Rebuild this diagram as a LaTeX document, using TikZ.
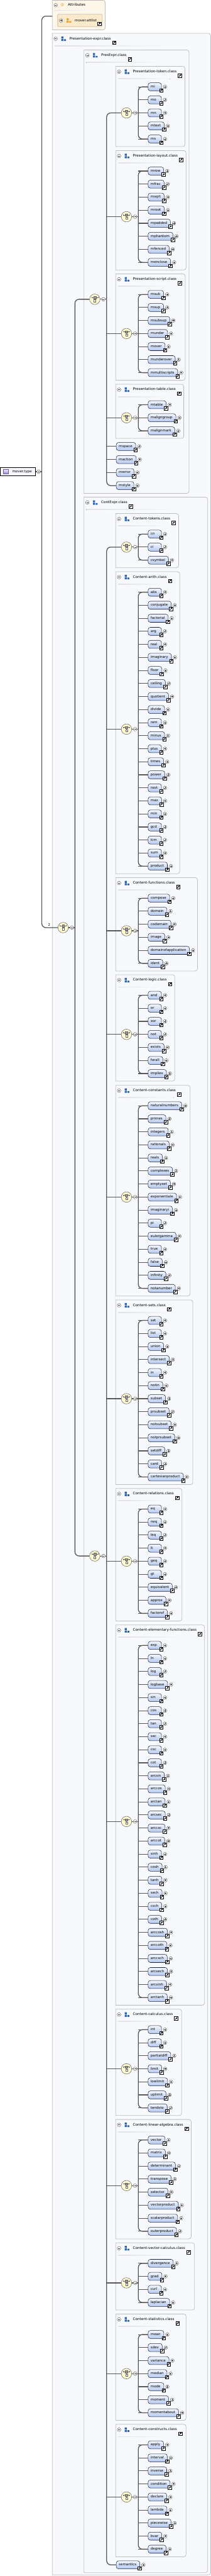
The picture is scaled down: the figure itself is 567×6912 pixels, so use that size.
\documentclass[tikz,border=0pt]{standalone}
\usepackage{fontspec}
\setmainfont{DejaVu Sans}
\usetikzlibrary{calc,arrows.meta,backgrounds}

\definecolor{boxline}{HTML}{BEBEBE}
\definecolor{boxfill}{HTML}{F7F9FD}
\definecolor{attrfill}{HTML}{FDF6E9}
\definecolor{attlistfill}{HTML}{FBEACB}
\definecolor{attlistline}{HTML}{CDBFA8}
\definecolor{elemtop}{HTML}{F3F7FE}
\definecolor{elembot}{HTML}{B3C7EE}
\definecolor{elemline}{HTML}{1C2238}
\definecolor{choicefill}{HTML}{FFFAD2}
\definecolor{connline}{HTML}{575757}
\definecolor{grpblue}{HTML}{2B63AF}
\definecolor{attrorange}{HTML}{EFA12E}
\definecolor{typefill}{HTML}{F8F6FC}
\definecolor{typetop}{HTML}{F1EDFB}
\definecolor{typebot}{HTML}{9986D2}
\definecolor{typeline}{HTML}{6B5AA6}

\tikzset{
  elem/.style={anchor=west, draw=elemline, line width=0.9pt, rounded corners=6pt,
    top color=elemtop, bottom color=elembot, minimum height=21.5pt, inner sep=0pt,
    text height=7pt, text depth=2pt, font=\fontsize{9.3pt}{11pt}\selectfont},
  pluscirc/.style={circle, draw=black!75, fill=white, line width=0.6pt, minimum size=9.6pt, inner sep=0pt,
    path picture={\draw[line width=0.7pt]
      ([xshift=-2.6pt]path picture bounding box.center) -- ([xshift=2.6pt]path picture bounding box.center)
      ([yshift=-2.6pt]path picture bounding box.center) -- ([yshift=2.6pt]path picture bounding box.center);}},
  minuscirc/.style={circle, draw=black!75, fill=white, line width=0.6pt, minimum size=9.6pt, inner sep=0pt,
    path picture={\draw[line width=0.7pt]
      ([xshift=-2.6pt]path picture bounding box.center) -- ([xshift=2.6pt]path picture bounding box.center);}},
  linkbox/.style={draw=black, fill=white, line width=0.8pt, minimum size=9.6pt, inner sep=0pt,
    path picture={\draw[line width=1.4pt, -{Triangle[length=3.4pt,width=4.2pt]}]
      ([shift={(2.2pt,2.2pt)}]path picture bounding box.south west) --
      ([shift={(-1.7pt,-1.7pt)}]path picture bounding box.north east);}},
  choicenode/.style={circle, draw=black!60, fill=choicefill, line width=0.9pt, minimum size=28pt, inner sep=0pt,
    path picture={\coordinate (pc) at (path picture bounding box.center);
      \draw[line width=0.7pt] ([shift={(-8.3pt,4.8pt)}]pc) -- ([shift={(8.3pt,4.8pt)}]pc)
        ([shift={(-8.3pt,3.2pt)}]pc) -- ([shift={(-8.3pt,6.4pt)}]pc)
        ([shift={(8.3pt,3.2pt)}]pc) -- ([shift={(8.3pt,6.4pt)}]pc)
        ([shift={(0pt,1.8pt)}]pc) -- ([shift={(0pt,-1.1pt)}]pc);
      \draw[line width=0.6pt, fill=black!40] ([shift={(-3pt,1.8pt)}]pc) rectangle ([shift={(3pt,7.8pt)}]pc);
      \draw[line width=0.6pt, fill=white] ([shift={(-2.8pt,-1.1pt)}]pc) rectangle ([shift={(2.8pt,-6.8pt)}]pc);}},
  conn/.style={draw=connline, line width=1.8pt},
  vbar/.style={draw=connline, line width=2.2pt},
  hdr/.style={anchor=west, inner sep=0pt, text height=7pt, text depth=2pt, font=\fontsize{9.6pt}{11pt}\selectfont},
  gbox/.style={draw=boxline, fill=boxfill, line width=1.3pt},
  attrbox/.style={draw=boxline, fill=attrfill, line width=1.3pt},
  attlistbox/.style={draw=attlistline, fill=attlistfill, line width=1.4pt, rounded corners=2pt},
  sepline/.style={left color=black!12, middle color=black!20, right color=boxfill},
  typebox/.style={anchor=west, draw=black, line width=1pt, fill=typefill, minimum height=22pt,
    minimum width=94.4pt, inner sep=0pt, text height=7pt, text depth=2pt, font=\fontsize{9.3pt}{11pt}\selectfont}
}

% label of an element box: left aligned, at least 20pt of text room
\newlength\elw
\newcommand\elabel[1]{\settowidth\elw{#1}\ifdim\elw<20pt\elw=20pt\fi\hspace*{6.9pt}\makebox[\elw][l]{#1}\hspace*{9.1pt}}

% the three squares of a group icon
\newcommand\gicon[3]{\fill[#3] ({#1},{#2-6}) rectangle ({#1+5.4},{#2-0.6})
  ({#1},{#2+0.6}) rectangle ({#1+5.4},{#2+6}) ({#1+7.2},{#2+1.4}) rectangle ({#1+12.2},{#2+6});}

% group box, rounded on the right side
\newcommand\gbox[5][gbox]{\path[#1] ({#2},{#3}) -- ({#4-6},{#3}) arc[start angle=90,end angle=0,radius=6pt]
  -- ({#4},{#5-6}) arc[start angle=0,end angle=-90,radius=6pt] -- ({#2},{#5}) -- cycle;}

% element with its plus sign and link icon
\newcommand\elemnode[3]{\node[elem] (e-#1) at ({#2},{#3}) {\elabel{#1}};
  \node[pluscirc] at ([xshift=9pt]e-#1.east) {};
  \node[linkbox] at ([shift={(-1pt,-9.4pt)}]e-#1.east) {};}

% header of a group box
\newcommand\ghead[5]{\node[minuscirc] at ({#2+9},{#3+14.4}) {};
  \gicon{#2+24.3}{#3+14.4}{grpblue}
  \node[hdr] (h-#1) at ({#2+46},{#3+14.4}) {#5};
  \node[linkbox] at ([shift={(8.7pt,-10.5pt)}]h-#1.east) {};
  \begin{pgfonlayer}{background}
    \fill[sepline] ({#2+6},{#3+32.3}) rectangle ({#2+6+0.75*(#4-#2)},{#3+33.8});
  \end{pgfonlayer}}

% class box: key, top, right, title, elements
\newcommand\classbox[5]{%
  \coordinate (bt-#1) at (371.7,#2);
  \foreach \nm [count=\i from 0] in {#5}{%
    \elemnode{\nm}{397.5}{#2+55+35*\i}
    \draw[conn] (e-\nm.west -| bt-#1) -- (e-\nm.west);
    \ifnum\i=0\relax\global\let\firstnm\nm\fi
    \global\let\lastnm\nm\global\let\lastcnt\i}%
  \coordinate (bx-#1) at (371.7,{#2+55+17.5*\lastcnt});
  \draw[vbar, rounded corners=11pt] (e-\firstnm.west) -| (bx-#1) |- (e-\lastnm.west);
  \node[choicenode] (ch-#1) at (339.9,{#2+55+17.5*\lastcnt}) {};
  \draw[conn] (ch-#1.east) -- (bx-#1);
  \node[minuscirc] at (363,{#2+55+17.5*\lastcnt}) {};
  \begin{pgfonlayer}{background}
    \gbox{310.9}{#2}{#3}{#2+75.3+35*\lastcnt}
  \end{pgfonlayer}
  \ghead{#1}{310.9}{#2}{#3}{#4}}

\begin{document}
\begin{tikzpicture}[x=1pt,y=-1pt]
\useasboundingbox (0,0) rectangle (567,6912);

% containers
\begin{pgfonlayer}{background}
  \gbox[attrbox]{140.6}{0.8}{282.6}{80.3}
  \fill[sepline] (146,27) rectangle (250,28.5);
  \path[attlistbox] (155,38.5) rectangle (274.6,71.4);
  \gbox{140.6}{89.5}{566}{6909}
  \gbox{225.7}{134}{508}{1324}
  \gbox{225.7}{1334}{558}{6903}
\end{pgfonlayer}

% attributes
\node[minuscirc] at (149.6,14) {};
\node[text=attrorange, inner sep=0pt, font=\fontsize{10pt}{11pt}\selectfont] (at) at (167.8,14) {@};
\node[hdr] (h-attr) at (182.2,14) {Attributes};
\node[pluscirc] at (163.8,55) {};
\gicon{179}{55}{attrorange}
\node[hdr, font=\fontsize{9.3pt}{11pt}\selectfont] (h-attlist) at (201,55) {mover.attlist};
\node[linkbox] at (267,63.6) {};
\coordinate (attr) at (140.6,43.3);

\ghead{pexpr}{140.6}{89.5}{566}{Presentation-expr.class}
\ghead{presexpr}{225.7}{134}{508}{PresExpr.class}
\ghead{contexpr}{225.7}{1334}{558}{ContExpr.class}

% the complex type
\node[typebox] (movertype) at (0.6,1265.6) {\hspace*{31pt}mover.type\hspace*{9pt}};
\path[top color=typetop, bottom color=typebot, draw=typeline, line width=0.6pt] (9,1259.6) rectangle (21.7,1271.6);
\coordinate (mb) at (112.3,1265.6);
\draw[conn] (movertype.east) -- (mb);
\node[minuscirc] at (103.6,1265.6) {};

% top choice, twice
\node[choicenode] (ch-top) at (169.6,2489) {};
\node[inner sep=0pt, font=\fontsize{9.3pt}{11pt}\selectfont] (occ) at (132.2,2480.8) {2};
\coordinate (btop) at (201.4,2489);
\draw[conn] (ch-top.east) -- (btop);
\node[minuscirc] at (193,2489) {};

\node[choicenode] (ch-pres) at (254.7,803) {};
\coordinate (bpres) at (286.6,803);
\draw[conn] (ch-pres.east) -- (bpres);
\node[minuscirc] at (278,803) {};

\node[choicenode] (ch-cont) at (254.7,4175) {};
\coordinate (bcont) at (286.6,4175);
\draw[conn] (ch-cont.east) -- (bcont);
\node[minuscirc] at (278,4175) {};

% presentation classes
\classbox{ptoken}{178}{497.1}{Presentation-token.class}{mi,mo,mn,mtext,ms}
\classbox{playout}{404}{500}{Presentation-layout.class}{mrow,mfrac,msqrt,mroot,mpadded,mphantom,mfenced,menclose}
\classbox{pscript}{735}{497.8}{Presentation-script.class}{msub,msup,msubsup,munder,mover,munderover,mmultiscripts}
\classbox{ptable}{1031}{493.8}{Presentation-table.class}{mtable,maligngroup,malignmark}
\foreach \nm [count=\i from 0] in {mspace,maction,merror,mstyle}{
  \elemnode{\nm}{312}{1198+35*\i}}

% content classes
\classbox{ctokens}{1378}{480}{Content-tokens.class}{cn,ci,csymbol}
\classbox{carith}{1534}{483}{Content-arith.class}{abs,conjugate,factorial,arg,real,imaginary,floor,ceiling,quotient,divide,rem,minus,plus,times,power,root,max,min,gcd,lcm,sum,product}
\classbox{cfunc}{2355}{530.8}{Content-functions.class}{compose,domain,codomain,image,domainofapplication,ident}
\classbox{clogic}{2615.5}{469.6}{Content-logic.class}{and,or,xor,not,exists,forall,implies}
\classbox{cconst}{2912}{510.9}{Content-constants.class}{naturalnumbers,primes,integers,rationals,reals,complexes,emptyset,exponentiale,imaginaryi,pi,eulergamma,true,false,infinity,notanumber}
\classbox{csets}{3488}{518.1}{Content-sets.class}{set,list,union,intersect,in,notin,subset,prsubset,notsubset,notprsubset,setdiff,card,cartesianproduct}
\classbox{crel}{3994}{489.1}{Content-relations.class}{eq,neq,leq,lt,geq,gt,equivalent,approx,factorof}
\classbox{celem}{4360}{549.6}{Content-elementary-functions.class}{exp,ln,log,logbase,sin,cos,tan,sec,csc,cot,arcsin,arccos,arctan,arcsec,arccsc,arccot,sinh,cosh,tanh,sech,csch,coth,arccosh,arccoth,arccsch,arcsech,arcsinh,arctanh}
\classbox{ccalc}{5391}{488}{Content-calculus.class}{int,diff,partialdiff,limit,lowlimit,uplimit,tendsto}
\classbox{clinalg}{5687}{513.8}{Content-linear-algebra.class}{vector,matrix,determinant,transpose,selector,vectorproduct,scalarproduct,outerproduct}
\classbox{cveccalc}{6018}{522.8}{Content-vector-calculus.class}{divergence,grad,curl,laplacian}
\classbox{cstats}{6209}{500}{Content-statistics.class}{mean,sdev,variance,median,mode,moment,momentabout}
\classbox{cconstr}{6505}{500}{Content-constructs.class}{apply,interval,inverse,condition,declare,lambda,piecewise,bvar,degree}
\elemnode{semantics}{312}{6882}

% connectors
\draw[vbar, rounded corners=11pt] (attr) -| (mb) |- (ch-top.west);
\draw[vbar, rounded corners=11pt] (ch-pres.west) -| (btop) |- (ch-cont.west);
\draw[vbar, rounded corners=11pt] (ch-ptoken.west) -| (bpres) |- (e-mstyle.west);
\foreach \k in {playout,pscript,ptable}
  \draw[conn] (ch-\k.west -| bpres) -- (ch-\k.west);
\foreach \nm in {mspace,maction,merror}
  \draw[conn] (e-\nm.west -| bpres) -- (e-\nm.west);
\draw[vbar, rounded corners=11pt] (ch-ctokens.west) -| (bcont) |- (e-semantics.west);
\foreach \k in {carith,cfunc,clogic,cconst,csets,crel,celem,ccalc,clinalg,cveccalc,cstats,cconstr}
  \draw[conn] (ch-\k.west -| bcont) -- (ch-\k.west);
\end{tikzpicture}
\end{document}
